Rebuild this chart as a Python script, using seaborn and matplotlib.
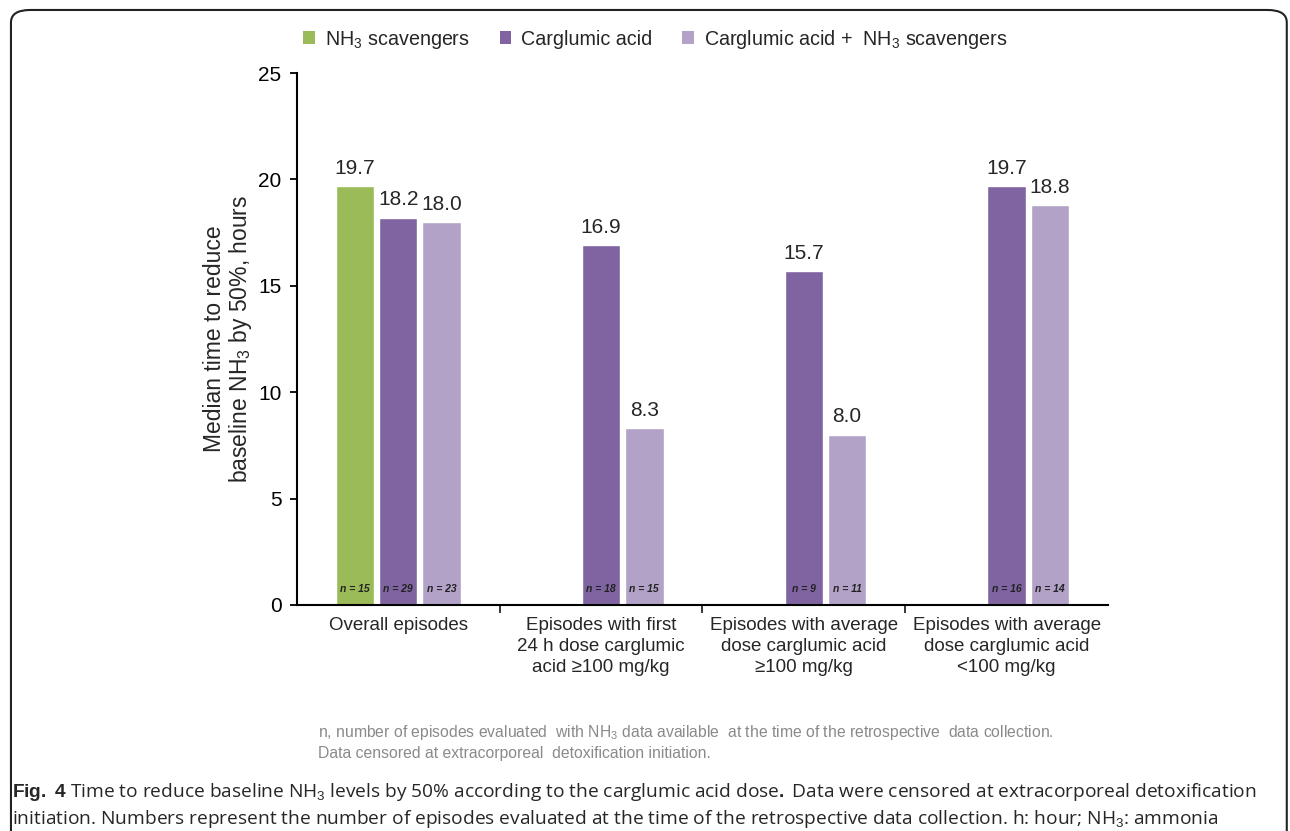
import numpy as np
import pandas as pd
import matplotlib
matplotlib.use("Agg")
import matplotlib.pyplot as plt
from matplotlib.patches import FancyBboxPatch, Patch
import seaborn as sns

# ── Données ─────────────────────────────────────────────────────────────────
categories = [
    "Overall episodes",
    "Episodes with first\n24 h dose carglumic\nacid \u2265100 mg/kg",
    "Episodes with average\ndose carglumic acid\n\u2265100 mg/kg",
    "Episodes with average\ndose carglumic acid\n<100 mg/kg",
]
series = ["NH$_3$ scavengers", "Carglumic acid", "Carglumic acid +  NH$_3$ scavengers"]
scavengers = [19.7, None, None, None]
carglumic = [18.2, 16.9, 15.7, 19.7]
combined = [18.0, 8.3, 8.0, 18.8]
n_scavengers = [15, None, None, None]
n_carglumic = [29, 18, 9, 16]
n_combined = [23, 15, 11, 14]
colors = ["#9BBB59", "#8064A2", "#B3A2C7"]

rows = []
for s, vals, ns in zip(series, [scavengers, carglumic, combined],
                       [n_scavengers, n_carglumic, n_combined]):
    for c, v, n in zip(categories, vals, ns):
        if v is not None:
            rows.append({"category": c, "series": s, "value": v, "n": n})
df = pd.DataFrame(rows)

# ── Style ───────────────────────────────────────────────────────────────────
sns.set_style("white")
plt.rcParams["font.family"] = ["Liberation Sans", "DejaVu Sans"]
plt.rcParams["mathtext.fontset"] = "custom"
plt.rcParams["mathtext.rm"] = "Liberation Sans"
plt.rcParams["mathtext.it"] = "Liberation Sans:italic"
plt.rcParams["mathtext.bf"] = "Liberation Sans:bold"

fig = plt.figure(figsize=(12.9, 8.31), dpi=100)
ax = fig.add_axes([0.230, 0.272, 0.629, 0.640])

sns.barplot(data=df, x="category", y="value", hue="series",
            order=categories, hue_order=series, palette=colors,
            width=0.64, gap=0.11, saturation=1, errorbar=None,
            legend=False, ax=ax)

# valeurs au-dessus des barres + effectifs n en bas
for cont, s in zip(ax.containers, series):
    sub = df[df["series"] == s]
    ax.bar_label(cont, labels=[f"{v:.1f}" for v in sub["value"]],
                 padding=6, fontsize=15)
    for bar, n in zip(cont, sub["n"]):
        ax.text(bar.get_x() + bar.get_width() / 2, 0.75, f"n = {int(n)}",
                ha="center", va="center", fontsize=7.5,
                fontweight="bold", style="italic", color="#222222")

ax.set_ylim(0, 25)
ax.set_xlim(-0.5, 3.5)
ax.set_yticks(range(0, 26, 5))
ax.tick_params(axis="y", labelsize=15, length=5, width=1.3, direction="out",
               left=True, pad=6, colors="black")
ax.set_xticks(range(4))
ax.set_xticklabels(categories, fontsize=13.5, linespacing=1.3)
ax.tick_params(axis="x", length=0, pad=9)
ax.set_xticks([0.5, 1.5, 2.5], minor=True)
ax.tick_params(axis="x", which="minor", length=6, width=1.3, direction="out", bottom=True)
ax.set_xlabel("")
ax.set_ylabel("Median time to reduce\nbaseline NH$_3$ by 50%, hours",
              fontsize=16.5, labelpad=3, linespacing=1.05)
for side in ["top", "right"]:
    ax.spines[side].set_visible(False)
for side in ["left", "bottom"]:
    ax.spines[side].set_linewidth(1.5)
    ax.spines[side].set_color("black")

# légende
handles = [Patch(facecolor=c, edgecolor="none") for c in colors]
fig.legend(handles, series, loc="center", bbox_to_anchor=(0.508, 0.953), ncol=3,
           frameon=False, fontsize=14.2, handlelength=0.6, handleheight=0.6,
           handletextpad=0.5, columnspacing=1.5)

# note sous le graphique
note = ("n, number of episodes evaluated  with NH$_3$ data available  at the time of the retrospective  data collection.\n"
        "Data censored at extracorporeal  detoxification initiation.")
fig.text(0.2465, 0.107, note, fontsize=11.3, color="#8a8a8a", va="center", ha="left",
         family=["Liberation Sans Narrow", "Liberation Sans"], linespacing=1.4)

# légende de la figure
cap1 = ("$\\bf{Fig.\\ 4}$ Time to reduce baseline NH$_3$ levels by 50% according to the carglumic acid dose$\\bf{.}$ "
        "Data were censored at extracorporeal detoxification")
cap2 = ("initiation. Numbers represent the number of episodes evaluated at the time of the retrospective "
        "data collection. h: hour; NH$_3$: ammonia")
fig.text(0.0095, 0.047, cap1, fontsize=13.75, family=["Open Sans", "DejaVu Sans"], va="center")
fig.text(0.0095, 0.015, cap2, fontsize=13.75, family=["Open Sans", "DejaVu Sans"], va="center")

# cadre arrondi
frame = FancyBboxPatch((0.0085, -0.05), 0.989, 1.038, boxstyle="round,pad=0,rounding_size=0.015",
                       transform=fig.transFigure, fill=False, edgecolor="#222222", linewidth=1.5)
fig.patches.append(frame)

fig.savefig("out.png", dpi=100)
